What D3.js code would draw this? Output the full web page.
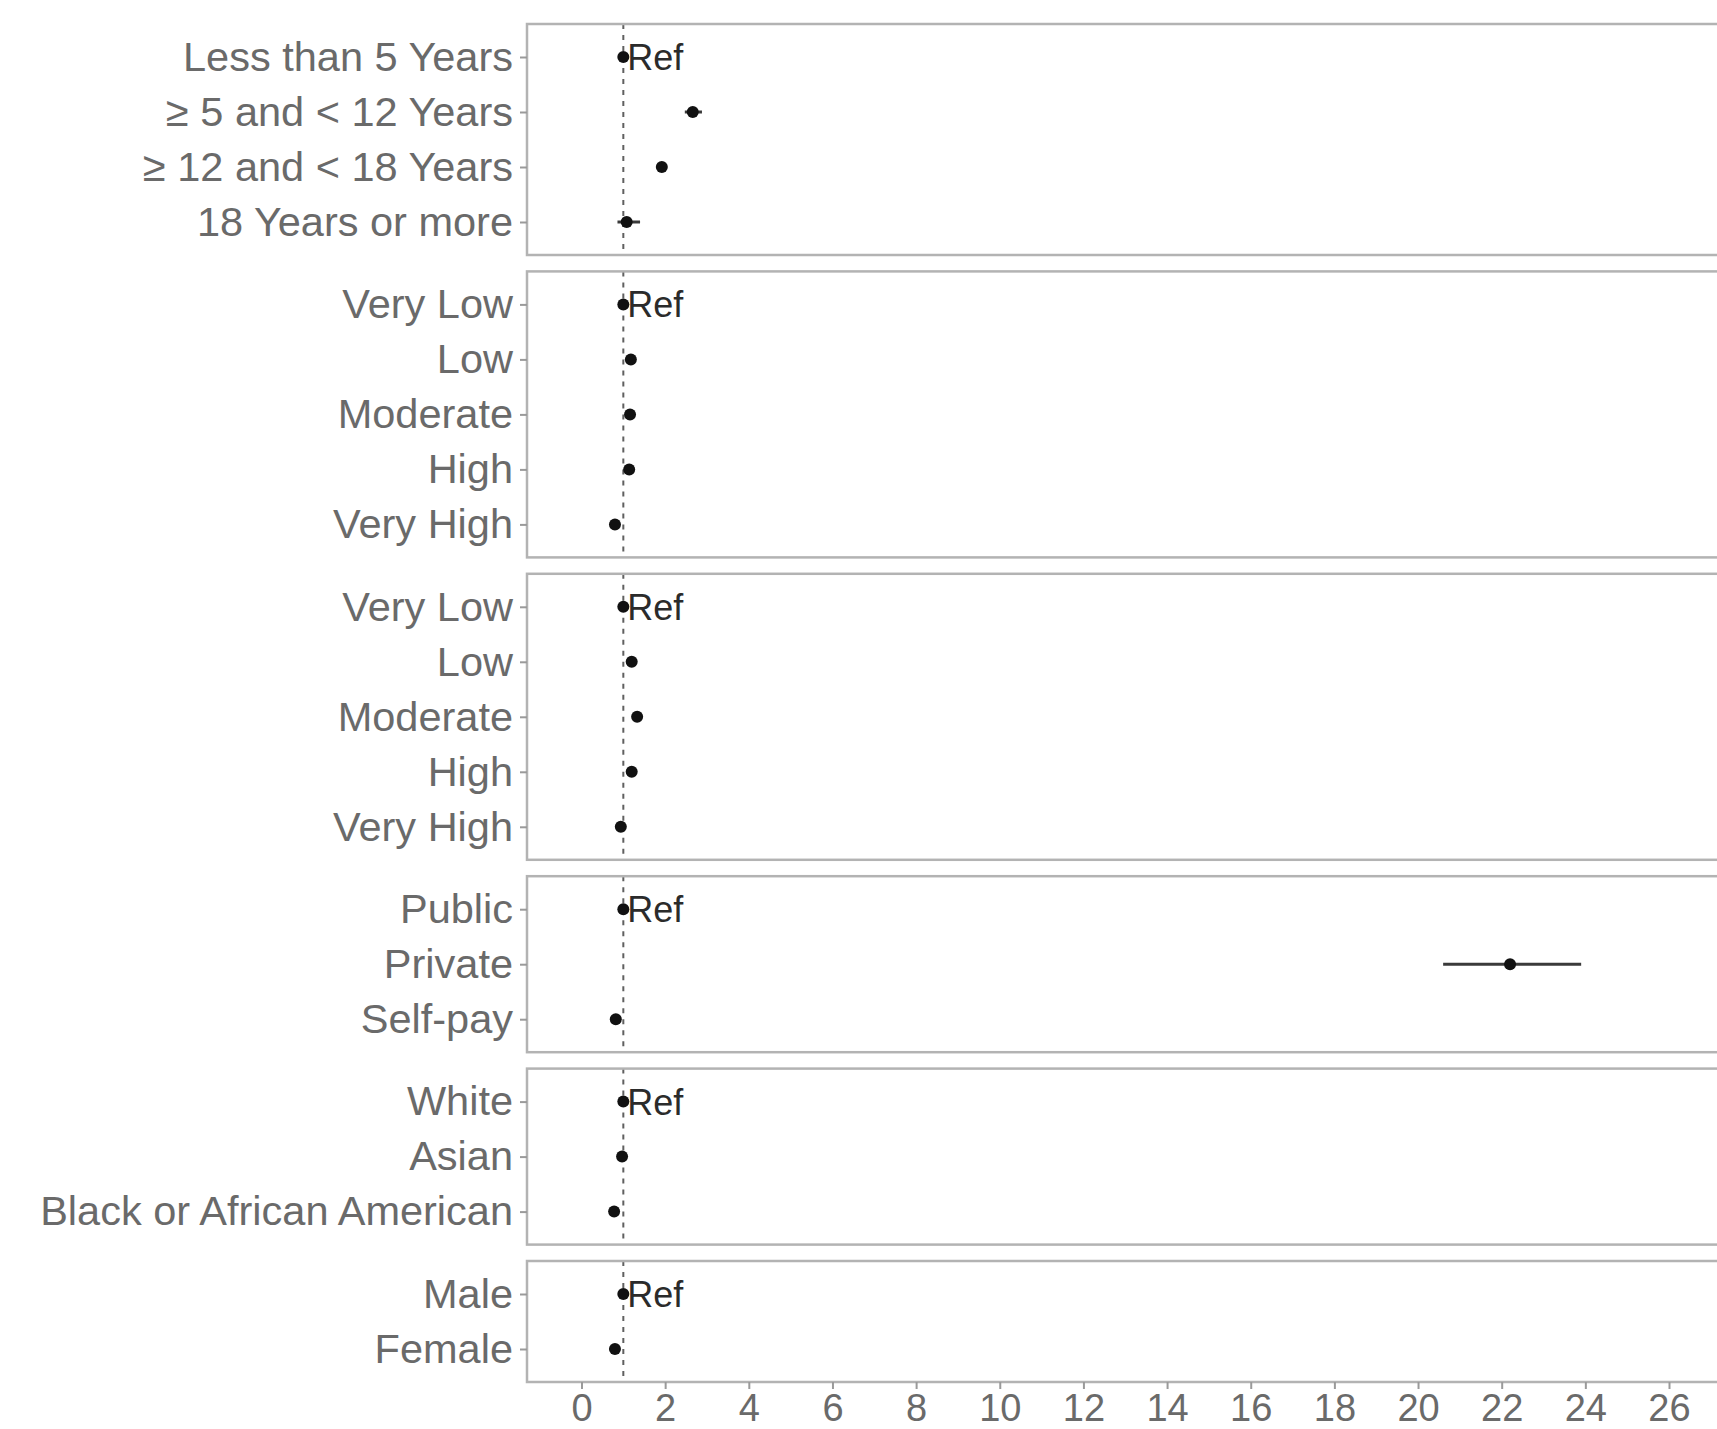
<!DOCTYPE html>
<html>
<head>
<meta charset="utf-8">
<script src="https://cdn.jsdelivr.net/npm/d3@7"></script>
<style>
  body { margin: 0; background: #fff; }
  text { font-family: "Liberation Sans", Arial, sans-serif; }
</style>
</head>
<body>
<div id="chart"></div>
<script>
// one small set of arrays per facet: labels, odds ratio, lower / upper CI
var ageLabels = ["Less than 5 Years", "\u2265 5 and < 12 Years", "\u2265 12 and < 18 Years", "18 Years or more"];
var ageOR     = [1, 2.66, 1.92, 1.08];
var ageLow    = [1, 2.47, 1.84, 0.86];
var ageHigh   = [1, 2.88, 2.01, 1.40];

var incomeLabels = ["Very Low", "Low", "Moderate", "High", "Very High"];
var incomeOR     = [1, 1.18, 1.16, 1.14, 0.80];
var incomeLow    = [1, 1.13, 1.11, 1.09, 0.76];
var incomeHigh   = [1, 1.23, 1.21, 1.19, 0.84];

var educLabels = ["Very Low", "Low", "Moderate", "High", "Very High"];
var educOR     = [1, 1.20, 1.33, 1.20, 0.94];
var educLow    = [1, 1.15, 1.27, 1.15, 0.90];
var educHigh   = [1, 1.25, 1.39, 1.25, 0.98];

var payerLabels = ["Public", "Private", "Self-pay"];
var payerOR     = [1, 22.2, 0.82];
var payerLow    = [1, 20.6, 0.78];
var payerHigh   = [1, 23.9, 0.86];

var raceLabels = ["White", "Asian", "Black or African American"];
var raceOR     = [1, 0.97, 0.78];
var raceLow    = [1, 0.93, 0.74];
var raceHigh   = [1, 1.01, 0.82];

var sexLabels = ["Male", "Female"];
var sexOR     = [1, 0.80];
var sexLow    = [1, 0.77];
var sexHigh   = [1, 0.83];

var xTicks = [0, 2, 4, 6, 8, 10, 12, 14, 16, 18, 20, 22, 24, 26];

var groups = [
    [ageLabels, ageOR, ageLow, ageHigh],
    [incomeLabels, incomeOR, incomeLow, incomeHigh],
    [educLabels, educOR, educLow, educHigh],
    [payerLabels, payerOR, payerLow, payerHigh],
    [raceLabels, raceOR, raceLow, raceHigh],
    [sexLabels, sexOR, sexLow, sexHigh]
].map(function(g) {
    return g[0].map(function(lab, i) {
        return {label: lab, or: g[1][i], lo: g[2][i], hi: g[3][i], ref: i === 0};
    });
});

var width = 1717, height = 1429;
var panelLeft = 527, panelRight = 1730;
var panelTop = 24, panelBottom = 1382, gap = 16.4;

var svg = d3.select("#chart")
    .append("svg")
    .attr("width", width)
    .attr("height", height);

var x = d3.scaleLinear()
    .domain([0, 26])
    .range([581.5, 1669]);

// facet heights proportional to the number of rows (space = "free")
var units = d3.sum(groups, function(g) { return g.length + 0.2; });
var unit = (panelBottom - panelTop - gap * (groups.length - 1)) / units;

var y0 = panelTop;
groups.forEach(function(rows, gi) {
    var h = (rows.length + 0.2) * unit;
    var y = d3.scalePoint()
        .domain(rows.map(function(d) { return d.label; }))
        .range([y0, y0 + h])
        .padding(0.6);

    var g = svg.append("g");

    // reference line at OR = 1
    g.append("line")
        .attr("x1", x(1)).attr("x2", x(1))
        .attr("y1", y0).attr("y2", y0 + h)
        .attr("stroke", "#606060")
        .attr("stroke-width", 2)
        .attr("stroke-dasharray", "5,6");

    g.selectAll(".ci")
        .data(rows)
        .enter()
        .append("line")
        .attr("class", "ci")
        .attr("x1", function(d) { return x(d.lo); })
        .attr("x2", function(d) { return x(d.hi); })
        .attr("y1", function(d) { return y(d.label); })
        .attr("y2", function(d) { return y(d.label); })
        .attr("stroke", "#3a3a3a")
        .attr("stroke-width", 3);

    g.selectAll(".pt")
        .data(rows)
        .enter()
        .append("circle")
        .attr("class", "pt")
        .attr("cx", function(d) { return x(d.or); })
        .attr("cy", function(d) { return y(d.label); })
        .attr("r", 6)
        .attr("fill", "#111");

    g.selectAll(".ref")
        .data(rows.filter(function(d) { return d.ref; }))
        .enter()
        .append("text")
        .attr("class", "ref")
        .attr("x", function(d) { return x(d.or) + 4; })
        .attr("y", function(d) { return y(d.label); })
        .attr("dy", "0.36em")
        .attr("font-size", 36)
        .attr("fill", "#2b2b2b")
        .text("Ref");

    // panel border
    g.append("rect")
        .attr("x", panelLeft)
        .attr("y", y0)
        .attr("width", panelRight - panelLeft)
        .attr("height", h)
        .attr("fill", "none")
        .attr("stroke", "#b3b3b3")
        .attr("stroke-width", 2.5);

    var yAxis = svg.append("g")
        .attr("transform", "translate(" + panelLeft + ",0)")
        .call(d3.axisLeft(y).tickSize(7).tickPadding(7));
    yAxis.select(".domain").remove();
    yAxis.selectAll(".tick line").attr("stroke", "#9a9a9a").attr("stroke-width", 2);
    yAxis.selectAll(".tick text")
        .attr("font-size", 41.5)
        .attr("font-family", "Liberation Sans, Arial, sans-serif")
        .attr("fill", "#6a6a6a");

    y0 += h + gap;
});

var xAxis = svg.append("g")
    .attr("transform", "translate(0," + panelBottom + ")")
    .call(d3.axisBottom(x).tickValues(xTicks).tickSize(7).tickPadding(5));
xAxis.select(".domain").remove();
xAxis.selectAll(".tick line").attr("stroke", "#9a9a9a").attr("stroke-width", 2);
xAxis.selectAll(".tick text")
    .attr("font-size", 38)
    .attr("font-family", "Liberation Sans, Arial, sans-serif")
    .attr("fill", "#6a6a6a");
</script>
</body>
</html>
